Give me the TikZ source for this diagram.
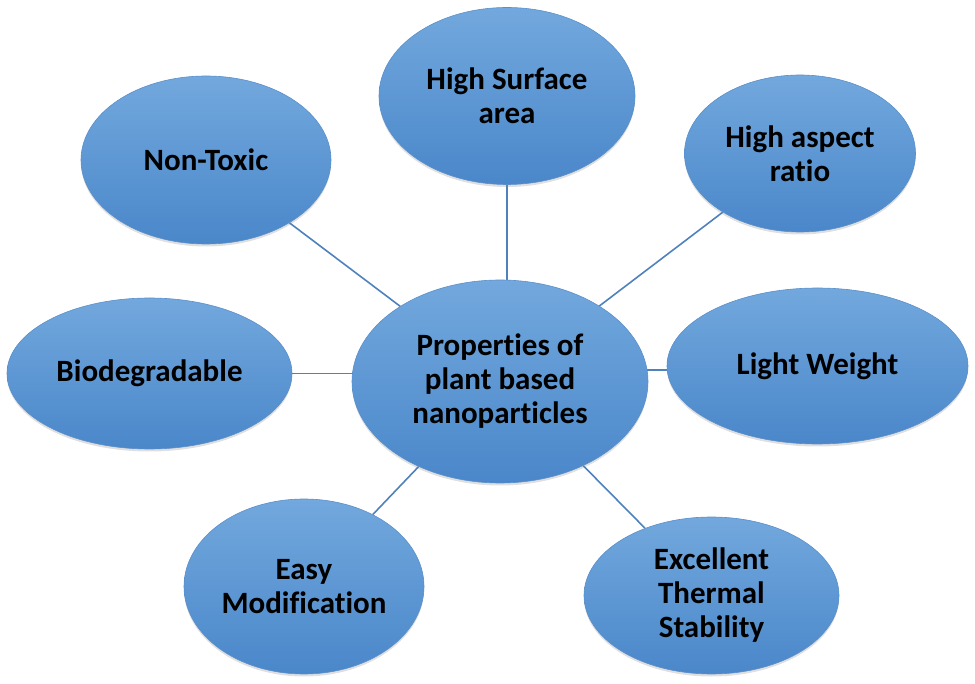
\documentclass[tikz,border=0pt]{standalone}
\usepackage{fontspec}
\setmainfont{Carlito}[Ligatures={NoCommon,NoContextual}]
\usetikzlibrary{shapes.geometric,shadows}
\pgfdeclarelayer{background}
\pgfsetlayers{background,main}
\definecolor{topblue}{HTML}{72A8DD}
\definecolor{botblue}{HTML}{4A87CA}
\definecolor{edgeblue}{HTML}{5A8FCB}
\definecolor{linkblue}{HTML}{4F81BD}
\newcommand{\nolig}{\kern0pt{}}
\tikzset{
  bubble/.style={ellipse, inner sep=0pt, align=center, text=black,
    top color=topblue, bottom color=botblue, draw=edgeblue, line width=0.6pt,
    font=\fontsize{31}{34}\selectfont\bfseries,
    drop shadow={opacity=0.25, shadow xshift=0pt, shadow yshift=-2.5pt}},
  link/.style={draw=linkblue, line width=1.6pt}
}
\begin{document}
\begin{tikzpicture}[x=1pt,y=-1pt]
\useasboundingbox (0,0) rectangle (975,684);
\node[bubble, minimum width=296pt, minimum height=203pt] (c) at (500,381.5) {Propert\nolig ies of\\plant based\\nanoparticles};
\node[bubble, minimum width=256pt, minimum height=177pt] (hs) at (507,96) {High Surface\\area};
\node[bubble, minimum width=250pt, minimum height=168pt] (nt) at (206,160) {Non-Toxic};
\node[bubble, minimum width=231pt, minimum height=157pt] (ha) at (800,153.5) {High aspect\\rat\nolig io};
\node[bubble, minimum width=285pt, minimum height=151pt] (bd) at (149.5,373.5) {Biodegradable};
\node[bubble, minimum width=301pt, minimum height=156pt] (lw) at (817.5,366) {Light Weight};
\node[bubble, minimum width=240pt, minimum height=175pt] (em) at (304,586.5) {Easy\\Modificat\nolig ion};
\node[bubble, minimum width=255pt, minimum height=157pt] (et) at (711.5,595.5) {Excellent\\Thermal\\Stability};
\coordinate (lwend) at ([yshift=-4pt]lw.west);
\begin{pgfonlayer}{background}
\draw[link] (hs.south) -- (hs.south |- c.center);
\draw[link] (c) -- (nt);
\draw[link] (c) -- (ha);
\draw[link] (bd.east) -- (bd.east -| c.center);
\draw[link] (lwend) -- (lwend -| c.center);
\draw[link] (c) -- (em);
\draw[link] (c) -- (et);
\end{pgfonlayer}
\end{tikzpicture}
\end{document}
